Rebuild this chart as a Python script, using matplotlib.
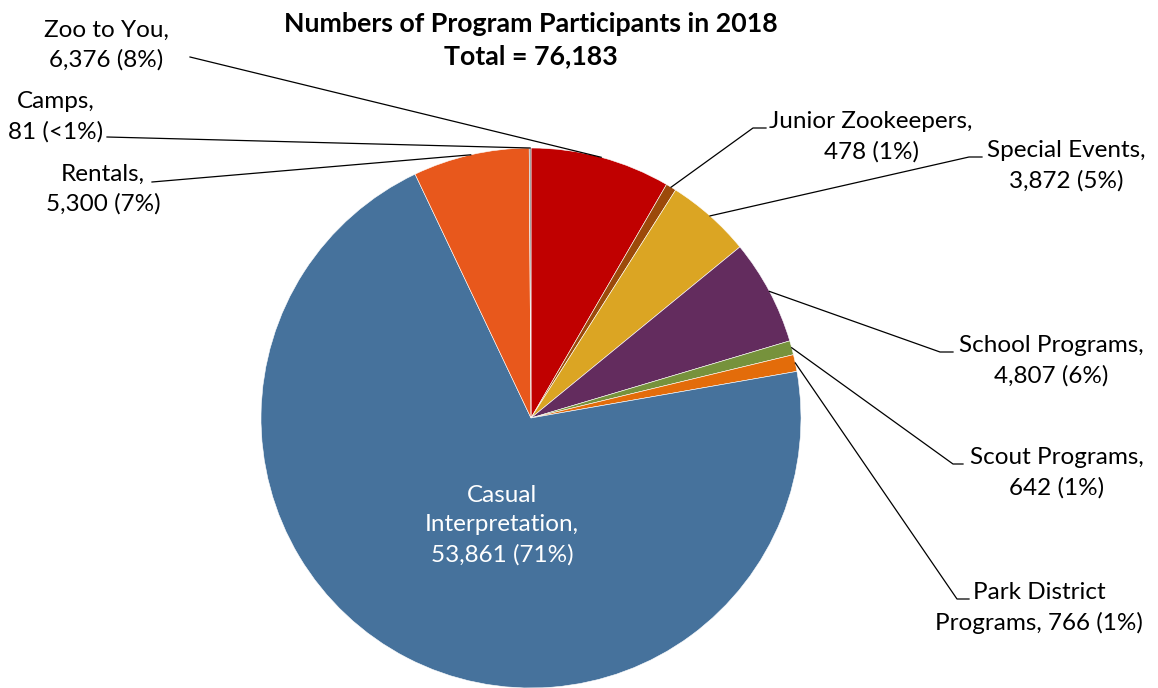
import matplotlib
matplotlib.use("Agg")
import matplotlib.pyplot as plt
import numpy as np

# data, clockwise from 12 o'clock
categories = ["Zoo to You", "Junior Zookeepers", "Special Events", "School Programs",
              "Scout Programs", "Park District Programs", "Casual Interpretation",
              "Rentals", "Camps"]
participants = [6376, 478, 3872, 4807, 642, 766, 53861, 5300, 81]
pct_labels = ["8%", "1%", "5%", "6%", "1%", "1%", "71%", "7%", "<1%"]
colors = ["#C00000", "#9C4A0A", "#DBA523", "#632C5E", "#76923C",
          "#E36C0A", "#46729C", "#E8581C", "#7F7F7F"]

total = sum(participants)

plt.rcParams['font.family'] = ['Lato', 'DejaVu Sans']

W, H = 1158, 688
fig = plt.figure(figsize=(W / 100, H / 100), dpi=100)
ax = fig.add_axes([0, 0, 1, 1])


def py(y):
    # pixel row -> data y
    return H - y


cx, cy, r = 531, py(418), 270
wedges, _ = ax.pie(participants, colors=colors, startangle=90, counterclock=False,
                   center=(cx, cy), radius=r, frame=True,
                   wedgeprops=dict(edgecolor='white', linewidth=0.4))
ax.set_xlim(0, W)
ax.set_ylim(0, H)
ax.set_aspect('equal')
ax.axis('off')


def anchor(i):
    w = wedges[i]
    a = np.deg2rad((w.theta1 + w.theta2) / 2)
    return cx + r * np.cos(a), cy + r * np.sin(a)


fs = 17.5
ls = 1.5
# label centre (px) and leader path from the text side (px)
label_pos = {
    0: (106, 45), 1: (871, 137), 2: (1066, 166), 3: (1051, 361),
    4: (1057, 473), 5: (1039, 608), 7: (103, 189), 8: (56, 117),
}
leader_pts = {
    0: [(190, 57)],
    1: [(766, 128), (753, 128)],
    2: [(982, 157), (969, 157)],
    3: [(953, 352), (940, 352)],
    4: [(963, 464), (953, 464)],
    5: [(969, 599), (957, 599)],
    7: [(152, 182)],
    8: [(107, 137)],
}

for i, (lx, ly) in label_pos.items():
    txt = f"{categories[i]},\n{participants[i]:,} ({pct_labels[i]})"
    if i == 5:
        txt = f"Park District\nPrograms, {participants[i]:,} ({pct_labels[i]})"
    ax.text(lx, py(ly), txt, ha='center', va='center', fontsize=fs,
            color='black', linespacing=ls)
    pts = [(x, py(y)) for x, y in leader_pts[i]] + [anchor(i)]
    xs, ys = zip(*pts)
    ax.plot(xs, ys, color='black', linewidth=0.9)

ax.text(502, py(525), "Casual\nInterpretation,\n53,861 (71%)", ha='center',
        va='center', fontsize=fs, color='white', linespacing=ls)

ax.text(531, py(40), f"Numbers of Program Participants in 2018\nTotal = {total:,}",
        ha='center', va='center', fontsize=19.3, fontweight='bold', linespacing=1.4)

fig.savefig("out.png", dpi=100)
